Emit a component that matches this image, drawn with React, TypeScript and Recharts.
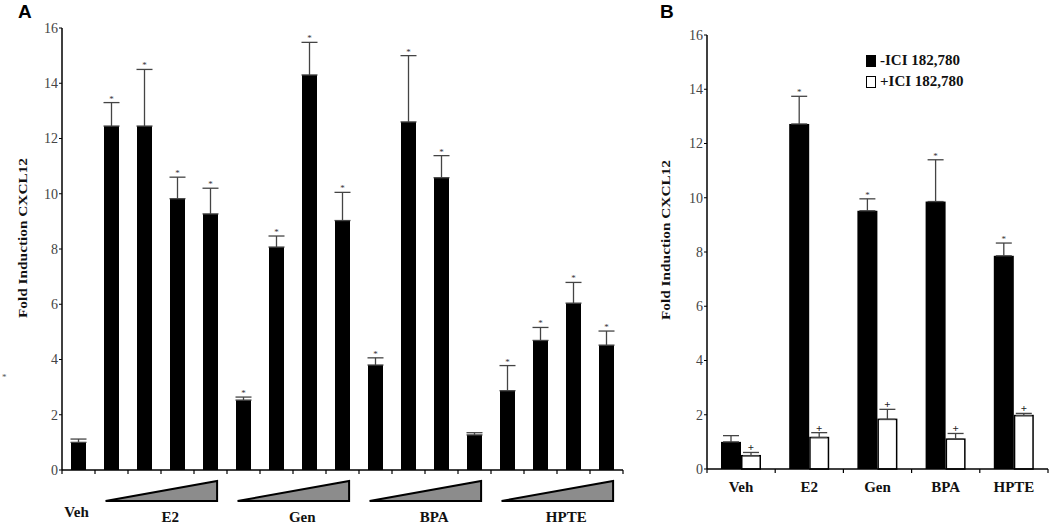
import React from 'react';
import { BarChart, Bar, XAxis, YAxis, ErrorBar, Label } from 'recharts';

// ---------- Panel A data ----------
const categoriesA = ['Veh', 'E2-1', 'E2-2', 'E2-3', 'E2-4', 'Gen-1', 'Gen-2', 'Gen-3', 'Gen-4', 'BPA-1', 'BPA-2', 'BPA-3', 'BPA-4', 'HPTE-1', 'HPTE-2', 'HPTE-3', 'HPTE-4'];
const valuesA = [1.0, 12.45, 12.45, 9.82, 9.27, 2.53, 8.07, 14.3, 9.03, 3.8, 12.6, 10.58, 1.27, 2.87, 4.69, 6.04, 4.52];
const errorsA = [0.12, 0.85, 2.05, 0.78, 0.93, 0.11, 0.4, 1.18, 1.02, 0.26, 2.4, 0.8, 0.08, 0.91, 0.47, 0.75, 0.51];
const significantA = [false, true, true, true, true, true, true, true, true, true, true, true, false, true, true, true, true];
const groupLabelsA = ['E2', 'Gen', 'BPA', 'HPTE'];
const groupStartsA = [1, 5, 9, 13];
const groupSizeA = 4;

// ---------- Panel B data ----------
const categoriesB = ['Veh', 'E2', 'Gen', 'BPA', 'HPTE'];
const minusICI = [1.0, 12.72, 9.52, 9.86, 7.86];
const minusICIErr = [0.23, 1.02, 0.44, 1.54, 0.47];
const minusICISig = [false, true, true, true, true];
const plusICI = [0.49, 1.16, 1.83, 1.1, 1.97];
const plusICIErr = [0.12, 0.18, 0.37, 0.21, 0.08];
const plusICISig = [true, true, true, true, true];
const seriesNamesB = ['-ICI 182,780', '+ICI 182,780'];

const yTicks = [0, 2, 4, 6, 8, 10, 12, 14, 16];
const SERIF = '"Liberation Serif", "Times New Roman", serif';
const SANS = '"Liberation Sans", Arial, sans-serif';

// ---------- Layout A ----------
const W_A = 650, H_A = 524;
const marginA = { top: 28, right: 27, left: 34, bottom: 0 };
const yAxisWA = 28, xAxisHA = 54;
const plotWA = W_A - marginA.left - marginA.right - yAxisWA;
const plotHA = H_A - marginA.top - marginA.bottom - xAxisHA;
const bandA = plotWA / categoriesA.length;
const pxA = plotHA / 16;

// ---------- Layout B ----------
const W_B = 410, H_B = 524;
const marginB = { top: 35, right: 2, left: 39, bottom: 0 };
const yAxisWB = 28, xAxisHB = 55;
const plotWB = W_B - marginB.left - marginB.right - yAxisWB;
const plotHB = H_B - marginB.top - marginB.bottom - xAxisHB;
const bandB = plotWB / categoriesB.length;
const pxB = plotHB / 16;

const dataA = categoriesA.map((c, i) => ({ name: c, value: valuesA[i], err: [0, errorsA[i]], sig: significantA[i] }));
const dataB = categoriesB.map((c, i) => ({
  name: c,
  minus: minusICI[i], minusErr: [0, minusICIErr[i]], minusSig: minusICISig[i],
  plus: plusICI[i], plusErr: [0, plusICIErr[i]], plusSig: plusICISig[i],
}));

const BarShapeA = (p: any) => {
  const { x, y, width, height, payload } = p;
  const top = y - payload.err[1] * pxA;
  return (
    <g>
      <rect x={x} y={y} width={width} height={height} fill="#000" />
      {payload.sig && (
        <text x={x + width / 2} y={top - 1} textAnchor="middle" fontSize={9} fill="#333" fontFamily={SERIF}>*</text>
      )}
    </g>
  );
};

const BarShapeBMinus = (p: any) => {
  const { x, y, width, height, payload } = p;
  const top = y - payload.minusErr[1] * pxB;
  return (
    <g>
      <rect x={x} y={y} width={width} height={height} fill="#000" />
      {payload.minusSig && (
        <text x={x + width / 2} y={top - 1} textAnchor="middle" fontSize={9} fill="#333" fontFamily={SERIF}>*</text>
      )}
    </g>
  );
};

const BarShapeBPlus = (p: any) => {
  const { x, y, width, height, payload } = p;
  const top = y - payload.plusErr[1] * pxB;
  return (
    <g>
      <rect x={x + 0.75} y={y} width={width - 1.5} height={height} fill="#fff" stroke="#000" strokeWidth={1.5} />
      {payload.plusSig && (
        <text x={x + width / 2} y={top - 1} textAnchor="middle" fontSize={11} fill="#222" fontFamily={SERIF} fontWeight="bold">+</text>
      )}
    </g>
  );
};

const TickA = (props: any) => {
  const { x, y, payload } = props;
  const i = payload.index;
  const half = bandA / 2;
  const els: any[] = [
    <line key="tl" x1={x - half} x2={x - half} y1={y} y2={y + 4} stroke="#000" strokeWidth={1.2} />,
  ];
  if (i === categoriesA.length - 1) {
    els.push(<line key="tr" x1={x + half} x2={x + half} y1={y} y2={y + 4} stroke="#000" strokeWidth={1.2} />);
  }
  if (i === 0) {
    els.push(
      <text key="veh" x={x - 2} y={y + 47} textAnchor="middle" fontSize={15} fontWeight="bold" fontFamily={SERIF} fill="#111">Veh</text>
    );
  }
  const g = groupStartsA.indexOf(i);
  if (g >= 0) {
    const left = x - half + bandA * 0.32;
    const right = x - half + bandA * groupSizeA - bandA * 0.3;
    els.push(
      <polygon key="tri" points={`${left},${y + 31} ${right},${y + 31} ${right},${y + 11}`} fill="#8c8c8c" stroke="#000" strokeWidth={2} strokeLinejoin="miter" />
    );
    els.push(
      <text key="gl" x={left + (right - left) * 0.58} y={y + 52} textAnchor="middle" fontSize={15} fontWeight="bold" fontFamily={SERIF} fill="#111">{groupLabelsA[g]}</text>
    );
  }
  return <g>{els}</g>;
};

const TickB = (props: any) => {
  const { x, y, payload } = props;
  const i = payload.index;
  const half = bandB / 2;
  const els: any[] = [
    <line key="tr" x1={x + half} x2={x + half} y1={y} y2={y + 4} stroke="#000" strokeWidth={1.2} />,
    <text key="lbl" x={x} y={y + 23} textAnchor="middle" fontSize={15} fontWeight="bold" fontFamily={SERIF} fill="#111">{payload.value}</text>,
  ];
  if (i === 0) {
    els.push(<line key="tl" x1={x - half} x2={x - half} y1={y} y2={y + 4} stroke="#000" strokeWidth={1.2} />);
  }
  return <g>{els}</g>;
};

const yLabel = (offset: number, len: number, shift: number) => (props: any) => {
  const vb = props.viewBox || {};
  const cx = vb.x - offset;
  const cy = vb.y + vb.height / 2 + shift;
  return (
    <text x={cx} y={cy} transform={`rotate(-90 ${cx} ${cy})`} textAnchor="middle" dominantBaseline="central"
      fontSize={13} fontWeight="bold" fontFamily={SERIF} fill="#111" textLength={len} lengthAdjust="spacingAndGlyphs">
      Fold Induction CXCL12
    </text>
  );
};

const LegendB = () => (
  <div style={{ position: 'absolute', left: 866, top: 50, fontFamily: SERIF, fontWeight: 'bold', fontSize: 15, color: '#111', lineHeight: '21px' }}>
    {seriesNamesB.map((n, i) => (
      <div key={n} style={{ display: 'flex', alignItems: 'center' }}>
        <span style={{ display: 'inline-block', width: 10, height: 12, boxSizing: 'border-box', border: '1.5px solid #000', background: i === 0 ? '#000' : '#fff', marginRight: 4 }} />
        <span>{n}</span>
      </div>
    ))}
  </div>
);

export default function App() {
  return (
    <div style={{ position: 'absolute', left: 0, top: 0, width: 1050, height: 524, background: '#fff', overflow: 'hidden' }}>
      <div style={{ position: 'absolute', left: 18, top: 1, fontFamily: SANS, fontWeight: 'bold', fontSize: 19 }}>A</div>
      <div style={{ position: 'absolute', left: 660, top: 1, fontFamily: SANS, fontWeight: 'bold', fontSize: 19 }}>B</div>
      <div style={{ position: 'absolute', left: 2, top: 372, fontFamily: SERIF, fontSize: 9, color: '#555' }}>*</div>

      <div style={{ position: 'absolute', left: 0, top: 0 }}>
        <BarChart width={W_A} height={H_A} data={dataA} margin={marginA} barSize={15}>
          <XAxis dataKey="name" height={xAxisHA} interval={0} tickSize={0} tickMargin={0} tickLine={false}
            axisLine={{ stroke: '#000', strokeWidth: 1.5 }} tick={<TickA />} />
          <YAxis width={yAxisWA} domain={[0, 16]} ticks={yTicks} interval={0} tickSize={3} tickMargin={1}
            axisLine={{ stroke: '#000', strokeWidth: 1.5 }} tickLine={{ stroke: '#000' }}
            tick={{ fontSize: 14, fill: '#444', fontFamily: SERIF }}>
            <Label content={yLabel(12, 160, -11)} />
          </YAxis>
          <Bar dataKey="value" isAnimationActive={false} shape={<BarShapeA />}>
            <ErrorBar dataKey="err" direction="y" width={8} stroke="#444" strokeWidth={1.3} />
          </Bar>
        </BarChart>
      </div>

      <div style={{ position: 'absolute', left: 640, top: 0 }}>
        <BarChart width={W_B} height={H_B} data={dataB} margin={marginB} barSize={20} barGap={0}>
          <XAxis dataKey="name" height={xAxisHB} interval={0} tickSize={0} tickMargin={0} tickLine={false}
            axisLine={{ stroke: '#000', strokeWidth: 1.5 }} tick={<TickB />} />
          <YAxis width={yAxisWB} domain={[0, 16]} ticks={yTicks} interval={0} tickSize={3} tickMargin={1}
            axisLine={{ stroke: '#000', strokeWidth: 1.5 }} tickLine={{ stroke: '#000' }}
            tick={{ fontSize: 14, fill: '#444', fontFamily: SERIF }}>
            <Label content={yLabel(14, 160, -12)} />
          </YAxis>
          <Bar dataKey="minus" name={seriesNamesB[0]} isAnimationActive={false} shape={<BarShapeBMinus />}>
            <ErrorBar dataKey="minusErr" direction="y" width={8} stroke="#444" strokeWidth={1.3} />
          </Bar>
          <Bar dataKey="plus" name={seriesNamesB[1]} isAnimationActive={false} shape={<BarShapeBPlus />}>
            <ErrorBar dataKey="plusErr" direction="y" width={8} stroke="#444" strokeWidth={1.3} />
          </Bar>
        </BarChart>
      </div>
      <LegendB />
    </div>
  );
}
